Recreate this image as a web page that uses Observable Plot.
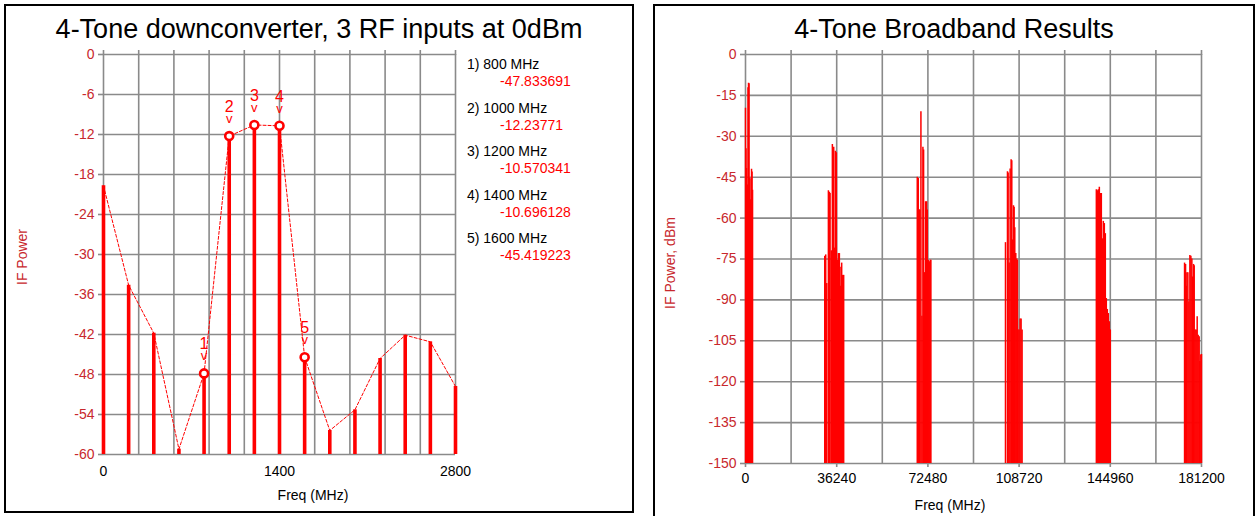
<!DOCTYPE html>
<html><head><meta charset="utf-8">
<script src="https://cdn.jsdelivr.net/npm/d3@7"></script>
<script src="https://cdn.jsdelivr.net/npm/@observablehq/plot@0.6"></script>
<style>
body{margin:0;background:#fff;font-family:"Liberation Sans",Arial,sans-serif;}
#page{position:relative;width:1257px;height:516px;overflow:hidden;}
.panel{position:absolute;border:2px solid #000;box-sizing:border-box;}
.title{position:absolute;font-size:27px;color:#000;white-space:nowrap;transform:translateX(-50%);line-height:30px;}
.txt{position:absolute;white-space:nowrap;font-size:14px;line-height:16px;}
.ylab{position:absolute;color:#c8282d;font-size:14px;white-space:nowrap;transform:translate(-50%,-50%) rotate(-90deg);}
.chart{position:absolute;top:0;}
.chart svg{background:transparent;}
</style></head>
<body><div id="page"></div>
<script>
// ---------- data: left chart (0 - 2800 MHz spectrum) ----------
const specFreq = [0, 200, 400, 600, 800, 1000, 1200, 1400, 1600, 1800, 2000, 2200, 2400, 2600, 2800];
const specDb = [-19.7, -34.6, -41.8, -59.2, -47.833691, -12.23771, -10.570341, -10.696128, -45.419223, -56.4, -53.3, -45.6, -42.1, -43.1, -49.8];
const markerNum = ["1", "2", "3", "4", "5"];
const markerFreq = [800, 1000, 1200, 1400, 1600];
const markerDb = [-47.833691, -12.23771, -10.570341, -10.696128, -45.419223];
const markerText = ["-47.833691", "-12.23771", "-10.570341", "-10.696128", "-45.419223"];
const leftXGrid = [0, 280, 560, 840, 1120, 1400, 1680, 1960, 2240, 2520, 2800];
const leftXLabels = [0, 1400, 2800];
const leftYTicks = [0, -6, -12, -18, -24, -30, -36, -42, -48, -54, -60];

// ---------- data: right chart (broadband clusters) ----------
const c1Freq = [31490, 31880, 32280, 32940, 33340, 33600, 34130, 34520, 34790, 35050, 35450, 35710, 36110, 36500, 36900, 37300, 37560, 37820, 38220, 38620, 39010];
const c1Db = [-74, -73.5, -84, -50, -50.5, -51, -72, -33, -64, -34, -71, -35.5, -36, -75.5, -73, -73, -78, -85, -76.5, -81, -81];
const c2Freq = [68256, 68652, 69048, 69312, 69708, 70104, 70500, 70764, 71160, 71556, 71952, 72216, 72612, 73008, 73404, 73668];
const c2Db = [-45, -45.5, -57, -57, -21, -96, -34, -35, -80, -54, -54, -57, -75.5, -76, -75.5, -75.5];
const c3Freq = [103308, 104100, 104364, 104760, 105156, 105552, 105816, 106080, 106476, 106740, 107004, 107400, 107796, 108060, 108324, 108720, 109116, 109512, 109908];
const c3Db = [-69, -43, -43.5, -76.5, -42, -38.6, -39, -68, -55.5, -56, -63.5, -73, -75, -75.5, -101, -101, -97, -97, -101];
const c4Freq = [139416, 139812, 140208, 140604, 141000, 141396, 141792, 142188, 142584, 142980, 143376, 143772, 144168, 144564, 144960];
const c4Db = [-49.6, -50, -49.6, -48.7, -51, -51, -67.6, -61.2, -62, -65.7, -89.5, -93.5, -95, -98, -101];
const c5Freq = [174468, 174864, 175128, 175392, 175788, 176184, 176580, 176976, 177372, 177636, 178032, 178296, 178692, 179088, 179484, 179880, 180276, 180540, 180936, 181200];
const c5Db = [-76.5, -77, -85, -80, -80, -90.7, -73.7, -74, -75, -81.6, -77, -77.5, -101, -101, -96.2, -103, -103.5, -112.6, -110.2, -110];
const rightXGrid = [0, 18120, 36240, 54360, 72480, 90600, 108720, 126840, 144960, 163080, 181200];
const rightXLabels = [0, 36240, 72480, 108720, 144960, 181200];
const rightYTicks = [0, -15, -30, -45, -60, -75, -90, -105, -120, -135, -150];

const titles = ["4-Tone downconverter, 3 RF inputs at 0dBm", "4-Tone Broadband Results"];

// ---------- styles ----------
const RED = "#ff0000";
const TICKRED = "#c8282d";
const GRID = "#8a8a8a";
const FONT = "'Liberation Sans', Arial, sans-serif";

const page = document.getElementById("page");
function add(cls, css, text) {
  const d = document.createElement("div");
  d.className = cls;
  Object.assign(d.style, css);
  if (text != null) d.textContent = text;
  page.appendChild(d);
  return d;
}

// panels
add("panel", {left: "4px", top: "4px", width: "630px", height: "509px"});
add("panel", {left: "653px", top: "4px", width: "602px", height: "530px"});

// ---------- left chart ----------
const spec = specFreq.map((f, i) => ({f, db: specDb[i]}));
const markers = markerFreq.map((f, i) => ({f, db: markerDb[i], n: markerNum[i]}));

const leftPlot = Plot.plot({
  width: 640, height: 516,
  marginLeft: 103, marginRight: 185, marginTop: 54, marginBottom: 62,
  x: {domain: [0, 2800]},
  y: {domain: [-60, 0]},
  style: {fontFamily: FONT, fontSize: "14px", background: "transparent", overflow: "visible"},
  marks: [
    Plot.gridX({ticks: leftXGrid, stroke: GRID, strokeOpacity: 1, strokeWidth: 1.6}),
    Plot.gridY({ticks: leftYTicks, stroke: GRID, strokeOpacity: 1, strokeWidth: 1.6}),
    Plot.axisX({anchor: "top", ticks: leftXGrid, tickSize: 5, tickFormat: () => "", stroke: GRID, strokeWidth: 1.6, label: null}),
    Plot.axisX({anchor: "bottom", ticks: leftXLabels, tickSize: 0, tickPadding: 12, tickFormat: d => String(d), fill: "#000", label: null}),
    Plot.axisY({ticks: leftYTicks, tickSize: 5, tickPadding: 4, tickFormat: d => String(d), stroke: GRID, strokeWidth: 1.6, fill: TICKRED, label: null}),
    Plot.ruleX(spec, {x: "f", y1: -60, y2: "db", stroke: RED, strokeWidth: 3.6}),
    Plot.line(spec, {x: "f", y: "db", stroke: RED, strokeWidth: 1, strokeDasharray: "3,2"}),
    Plot.dot(markers, {x: "f", y: "db", r: 4, stroke: RED, strokeWidth: 2.6, fill: "#fff"}),
    Plot.text(markers, {x: "f", y: "db", text: "n", dy: -24, lineAnchor: "bottom", fill: RED, fontSize: 16}),
    Plot.text(markers, {x: "f", y: "db", text: () => "v", dy: -13, lineAnchor: "bottom", fill: RED, fontSize: 13})
  ]
});
const lc = add("chart", {left: "0px", width: "640px", height: "516px"});
lc.appendChild(leftPlot);

// ---------- right chart ----------
const bb = [];
specFreq.forEach((f, i) => bb.push({f, db: specDb[i]}));
[[c1Freq, c1Db], [c2Freq, c2Db], [c3Freq, c3Db], [c4Freq, c4Db], [c5Freq, c5Db]].forEach(([fs, ds]) => {
  fs.forEach((f, i) => bb.push({f, db: ds[i]}));
});

const rightPlot = Plot.plot({
  width: 617, height: 516,
  marginLeft: 105, marginRight: 56, marginTop: 54, marginBottom: 53,
  x: {domain: [0, 181200]},
  y: {domain: [-150, 0]},
  style: {fontFamily: FONT, fontSize: "14px", background: "transparent", overflow: "visible"},
  marks: [
    Plot.gridX({ticks: rightXGrid, stroke: GRID, strokeOpacity: 1, strokeWidth: 1.6}),
    Plot.gridY({ticks: rightYTicks, stroke: GRID, strokeOpacity: 1, strokeWidth: 1.6}),
    Plot.axisX({anchor: "top", ticks: rightXGrid, tickSize: 5, tickFormat: () => "", stroke: GRID, strokeWidth: 1.6, label: null}),
    Plot.axisX({anchor: "bottom", ticks: rightXLabels, tickSize: 4, tickPadding: 6, tickFormat: d => String(d), stroke: GRID, strokeWidth: 1.6, fill: "#000", label: null}),
    Plot.axisY({ticks: rightYTicks, tickSize: 5, tickPadding: 4, tickFormat: d => String(d), stroke: GRID, strokeWidth: 1.6, fill: TICKRED, label: null}),
    Plot.ruleX(bb, {x: "f", y1: -150, y2: "db", stroke: RED, strokeWidth: 1.5})
  ]
});
const rc = add("chart", {left: "640px", width: "617px", height: "516px"});
rc.appendChild(rightPlot);

// ---------- titles, labels, legend ----------
add("title", {left: "319px", top: "14px"}, titles[0]);
add("title", {left: "954px", top: "14px"}, titles[1]);
add("txt", {left: "313px", top: "487px", transform: "translateX(-50%)", color: "#000"}, "Freq (MHz)");
add("txt", {left: "950px", top: "497px", transform: "translateX(-50%)", color: "#000"}, "Freq (MHz)");
add("ylab", {left: "22px", top: "257px"}, "IF Power");
add("ylab", {left: "670px", top: "263px"}, "IF Power, dBm");

markerFreq.forEach((f, i) => {
  const top = 56 + i * 43.6;
  add("txt", {left: "467px", top: top + "px", color: "#000"}, `${markerNum[i]}) ${f} MHz`);
  add("txt", {left: "500px", top: (top + 17) + "px", color: RED}, markerText[i]);
});
</script>
</body></html>
